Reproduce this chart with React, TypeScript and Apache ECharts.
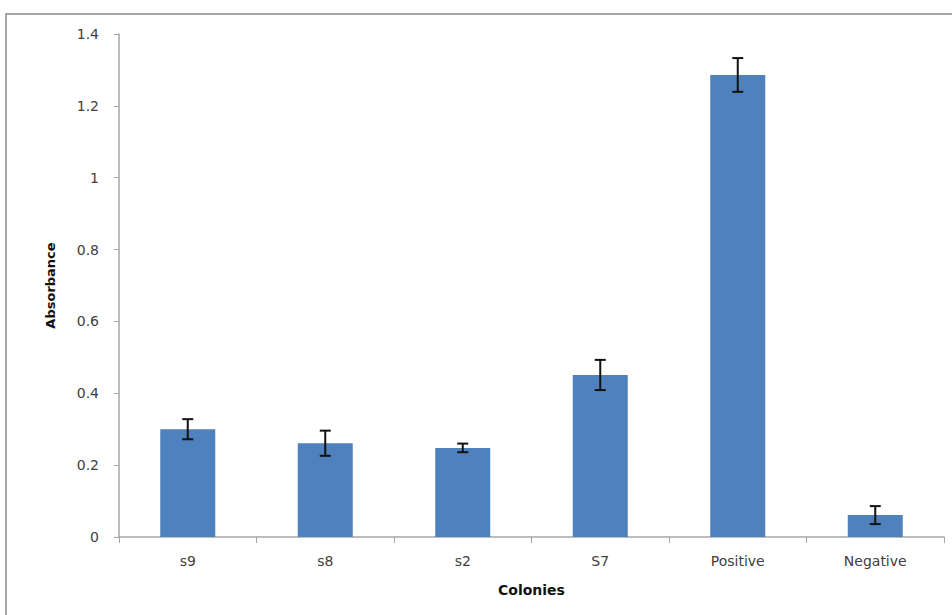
import React, { useEffect, useRef } from "react";
import * as echarts from "echarts";

const categories = ["s9", "s8", "s2", "S7", "Positive", "Negative"];
const values = [0.3, 0.261, 0.248, 0.451, 1.286, 0.061];
const errors = [0.028, 0.035, 0.012, 0.042, 0.047, 0.025];
const yTicks = [0, 0.2, 0.4, 0.6, 0.8, 1, 1.2, 1.4];

const FONT = "'DejaVu Sans', 'Liberation Sans', Arial, sans-serif";

export default function App() {
  const ref = useRef<HTMLDivElement>(null);
  useEffect(() => {
    if (!ref.current) return;
    const chart = echarts.init(ref.current, undefined, { renderer: "svg" });
    const errData = categories.map((_, i) => [i, values[i] - errors[i], values[i] + errors[i]]);
    chart.setOption({
      animation: false,
      backgroundColor: "#ffffff",
      textStyle: { fontFamily: FONT },
      graphic: [
        {
          type: "polyline",
          shape: { points: [[6, 615], [6, 14], [952, 14]] },
          style: { stroke: "#a6a6a6", lineWidth: 2, fill: "none" },
          silent: true,
        },
      ],
      grid: { left: 119, right: 8, top: 34, bottom: 78, containLabel: false },
      xAxis: {
        type: "category",
        data: categories,
        name: "Colonies",
        nameLocation: "middle",
        nameGap: 46,
        nameTextStyle: { fontSize: 14, fontWeight: "bold", color: "#111", fontFamily: FONT },
        axisLine: { lineStyle: { color: "#a6a6a6", width: 1.5 } },
        axisTick: { show: true, length: 6, alignWithLabel: false, lineStyle: { color: "#a6a6a6" } },
        axisLabel: { fontSize: 14, color: "#404040", margin: 17, fontFamily: FONT },
        splitLine: { show: false },
      },
      yAxis: {
        type: "value",
        min: 0,
        max: 1.4,
        interval: 0.2,
        name: "Absorbance",
        nameLocation: "middle",
        nameGap: 62,
        nameRotate: 90,
        nameTextStyle: { fontSize: 13, fontWeight: "bold", color: "#111", fontFamily: FONT },
        axisLine: { show: true, lineStyle: { color: "#a6a6a6", width: 1.5 } },
        axisTick: { show: true, length: 5, lineStyle: { color: "#a6a6a6" } },
        axisLabel: {
          fontSize: 14,
          color: "#404040",
          margin: 20,
          fontFamily: FONT,
          formatter: (v: number) => {
            const t = yTicks.find((x) => Math.abs(x - v) < 1e-6);
            const val = t === undefined ? v : t;
            return Number.isInteger(val) ? String(val) : val.toFixed(1);
          },
        },
        splitLine: { show: false },
      },
      series: [
        {
          type: "bar",
          data: values,
          barWidth: "40%",
          itemStyle: { color: "#4f81bd" },
        },
        {
          type: "custom",
          data: errData,
          z: 10,
          renderItem: (params: any, api: any) => {
            const x = api.value(0);
            const lo = api.coord([x, api.value(1)]);
            const hi = api.coord([x, api.value(2)]);
            const cap = 5.5;
            const style = { stroke: "#111", lineWidth: 2 };
            return {
              type: "group",
              children: [
                { type: "line", shape: { x1: hi[0], y1: hi[1], x2: lo[0], y2: lo[1] }, style },
                { type: "line", shape: { x1: hi[0] - cap, y1: hi[1], x2: hi[0] + cap, y2: hi[1] }, style },
                { type: "line", shape: { x1: lo[0] - cap, y1: lo[1], x2: lo[0] + cap, y2: lo[1] }, style },
              ],
            };
          },
        },
      ],
    });
    return () => chart.dispose();
  }, []);
  return (
    <div
      ref={ref}
      style={{ position: "fixed", left: 0, top: 0, width: 952, height: 615 }}
    />
  );
}
